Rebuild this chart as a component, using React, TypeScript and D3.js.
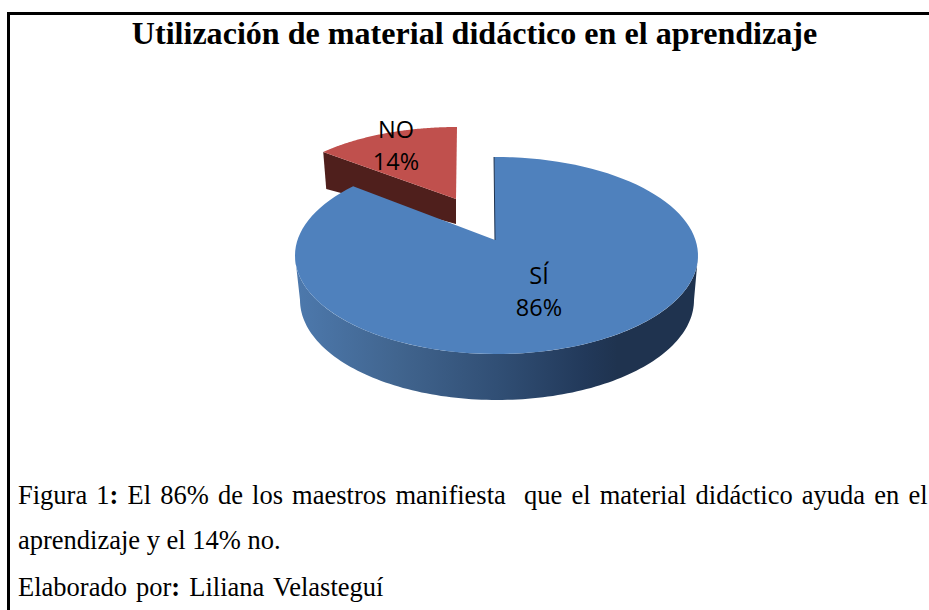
import React from "react";
import * as d3 from "d3";

const categories = ["SÍ", "NO"];
const shares = [86, 14];
const titleText = "Utilización de material didáctico en el aprendizaje";
const captionLines: [string, string, string][] = [
  ["Figura 1", ":", " El 86% de los maestros manifiesta  que el material didáctico ayuda en el"],
  ["aprendizaje y el 14% no.", "", ""],
  ["Elaborado por", ":", " Liliana Velasteguí"],
];

const serif = "'Liberation Serif', serif";
const sans = "'Open Sans', sans-serif";
const deg = Math.PI / 180;
const perspective = 0.9;

type Ell = { cx: number; cy: number; rx: number; ry: number };
const blueE: Ell = { cx: 496.5, cy: 255.5, rx: 201.5, ry: 98.5 };
const blueLow: Ell = { cx: 497, cy: 300, rx: 197, ry: 100 };
const redE: Ell = { cx: 457, cy: 211, rx: 188, ry: 84 };
const blueApex: [number, number] = [495, 240];
const redApex: [number, number] = [456, 199];
const at = (e: Ell, t: number): [number, number] => [e.cx + e.rx * Math.sin(t), e.cy - e.ry * Math.cos(t)];
const sweep = (e: Ell, a: number, b: number) => d3.range(0, 121).map((i) => at(e, a + ((b - a) * i) / 120));
const line = d3.line();

export default function App() {
  const arcs = d3.pie<number>().sort(null)(shares);
  const gap = (arcs[1].endAngle - arcs[1].startAngle) * perspective;
  const start = -0.7 * deg;
  const blueEnd = 2 * Math.PI - gap;
  const bluePath = line([...sweep(blueE, start, blueEnd), blueApex])! + "Z";
  const wallPath = line([...sweep(blueE, 90 * deg, 270 * deg), ...sweep(blueLow, 270 * deg, 90 * deg)])! + "Z";
  const redPath = line([...sweep(redE, -gap, 0), redApex])! + "Z";
  const redLeft = at(redE, -gap);
  const redWall = line([redLeft, [redLeft[0] + 3, redLeft[1] + 37], [redApex[0], redApex[1] + 25], redApex])! + "Z";
  const cutEdge = line([at(blueE, start), blueApex])!;

  return (
    <svg width={929} height={610} viewBox="0 0 929 610" style={{ position: "absolute", left: 0, top: 0, background: "#fff" }}>
      <defs>
        <linearGradient id="wall" x1="0" x2="1" y1="0" y2="0">
          <stop offset="0" stopColor="#4d79ad" />
          <stop offset="0.25" stopColor="#41658f" />
          <stop offset="0.5" stopColor="#314f75" />
          <stop offset="0.72" stopColor="#22395a" />
          <stop offset="0.8" stopColor="#1f334f" />
          <stop offset="1" stopColor="#1f334f" />
        </linearGradient>
      </defs>
      <line x1={7} y1={13.5} x2={929} y2={13.5} stroke="#000" strokeWidth={3} />
      <line x1={8.5} y1={12} x2={8.5} y2={610} stroke="#000" strokeWidth={3} />
      <text x={474.5} y={43.5} textAnchor="middle" fontFamily={serif} fontWeight="bold" fontSize={32.1} fill="#000">{titleText}</text>

      <path d={redWall} fill="#4f1f1c" />
      <path d={redPath} fill="#c0504d" />
      <path d={wallPath} fill="url(#wall)" />
      <path d={bluePath} fill="#4f81bd" />
      <path d={cutEdge} stroke="#1f334f" strokeWidth={1} fill="none" />

      <g fontFamily={sans} fontSize={23.5} fill="#000" textAnchor="middle">
        <text x={396} y={138}>{categories[1]}</text>
        <text x={396} y={170}>{shares[1]}%</text>
        <text x={539} y={284}>{categories[0]}</text>
        <text x={539} y={316}>{shares[0]}%</text>
      </g>

      <g fontFamily={serif} fontSize={26.5} fill="#000" style={{ whiteSpace: "pre" }}>
        {captionLines.map((l, i) => (
          <text key={i} x={18} y={[504, 549, 596][i]} wordSpacing={[2.5, 0, 2.5][i]} xmlSpace="preserve">
            {l[0]}
            <tspan fontWeight="bold">{l[1]}</tspan>
            {l[2]}
          </text>
        ))}
      </g>
    </svg>
  );
}
